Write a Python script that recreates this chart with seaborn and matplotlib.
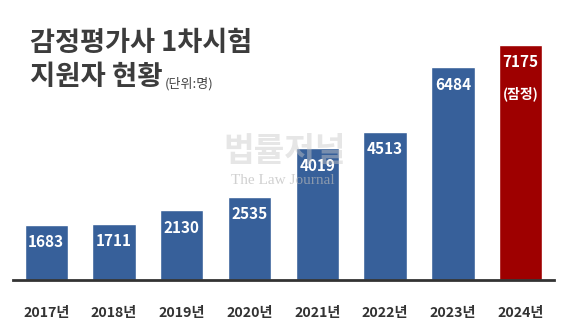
import matplotlib
matplotlib.use("Agg")
import matplotlib.pyplot as plt
import seaborn as sns
import pandas as pd

years = ["2017년", "2018년", "2019년", "2020년", "2021년", "2022년", "2023년", "2024년"]
applicants = [1683, 1711, 2130, 2535, 4019, 4513, 6484, 7175]
notes = ["", "", "", "", "", "", "", "(잠정)"]
bar_colors = ["#37609a"] * 7 + ["#9e0000"]

title_line1 = "감정평가사 1차시험"
title_line2 = "지원자 현황"
unit_text = "(단위:명)"

sns.set_theme(style="white")
plt.rcParams['font.family'] = ['Noto Sans CJK KR', 'DejaVu Sans']

df = pd.DataFrame({"year": years, "count": applicants})

fig = plt.figure(figsize=(5.69, 3.22), dpi=100)
ax = fig.add_axes([0.0237, 0.1304, 0.9508, 0.8696])

sns.barplot(data=df, x="year", y="count", hue="year", palette=bar_colors,
            legend=False, width=0.64, ax=ax, saturation=1)

ax.set_xlim(-0.484, 7.50)
ax.set_ylim(0, 8537)
ax.set_xlabel("")
ax.set_ylabel("")
ax.set_yticks([])
for s in ["top", "right", "left"]:
    ax.spines[s].set_visible(False)
ax.spines["bottom"].set_color("#333333")
ax.spines["bottom"].set_linewidth(2)
ax.tick_params(axis="x", length=0, pad=19)
for lbl in ax.get_xticklabels():
    lbl.set_fontsize(10.2)
    lbl.set_fontweight("bold")
    lbl.set_color("#333333")

for i, (v, n) in enumerate(zip(applicants, notes)):
    ax.annotate(f"{v}", (i, v), xytext=(0, -12.5), textcoords="offset points",
                ha="center", va="center", color="white", fontsize=11,
                fontweight="bold")
    if n:
        ax.annotate(n, (i, v), xytext=(0, -35), textcoords="offset points",
                    ha="center", va="center", color="white", fontsize=10,
                    fontweight="bold")

# watermark
fig.text(285 / 569, 1 - 151 / 322, "법률저널", ha="center", va="center",
         fontsize=24, fontweight="bold", color="#c8c8c8", alpha=0.45, zorder=10)
fig.text(283 / 569, 1 - 181 / 322, "The Law Journal", ha="center", va="center",
         fontsize=11, family=["Liberation Serif", "DejaVu Serif"],
         color="#b8b8b8", alpha=0.65, zorder=10)

# titles
fig.text(30 / 569, 1 - 43 / 322, title_line1, ha="left", va="center",
         fontsize=19.6, fontweight="bold", color="#3c3c3c")
fig.text(30 / 569, 1 - 77 / 322, title_line2, ha="left", va="center",
         fontsize=19.8, fontweight="bold", color="#3c3c3c")
fig.text(165 / 569, 1 - 84 / 322, unit_text, ha="left", va="center",
         fontsize=9.4, color="#444444")

fig.savefig("out.png", dpi=100)
